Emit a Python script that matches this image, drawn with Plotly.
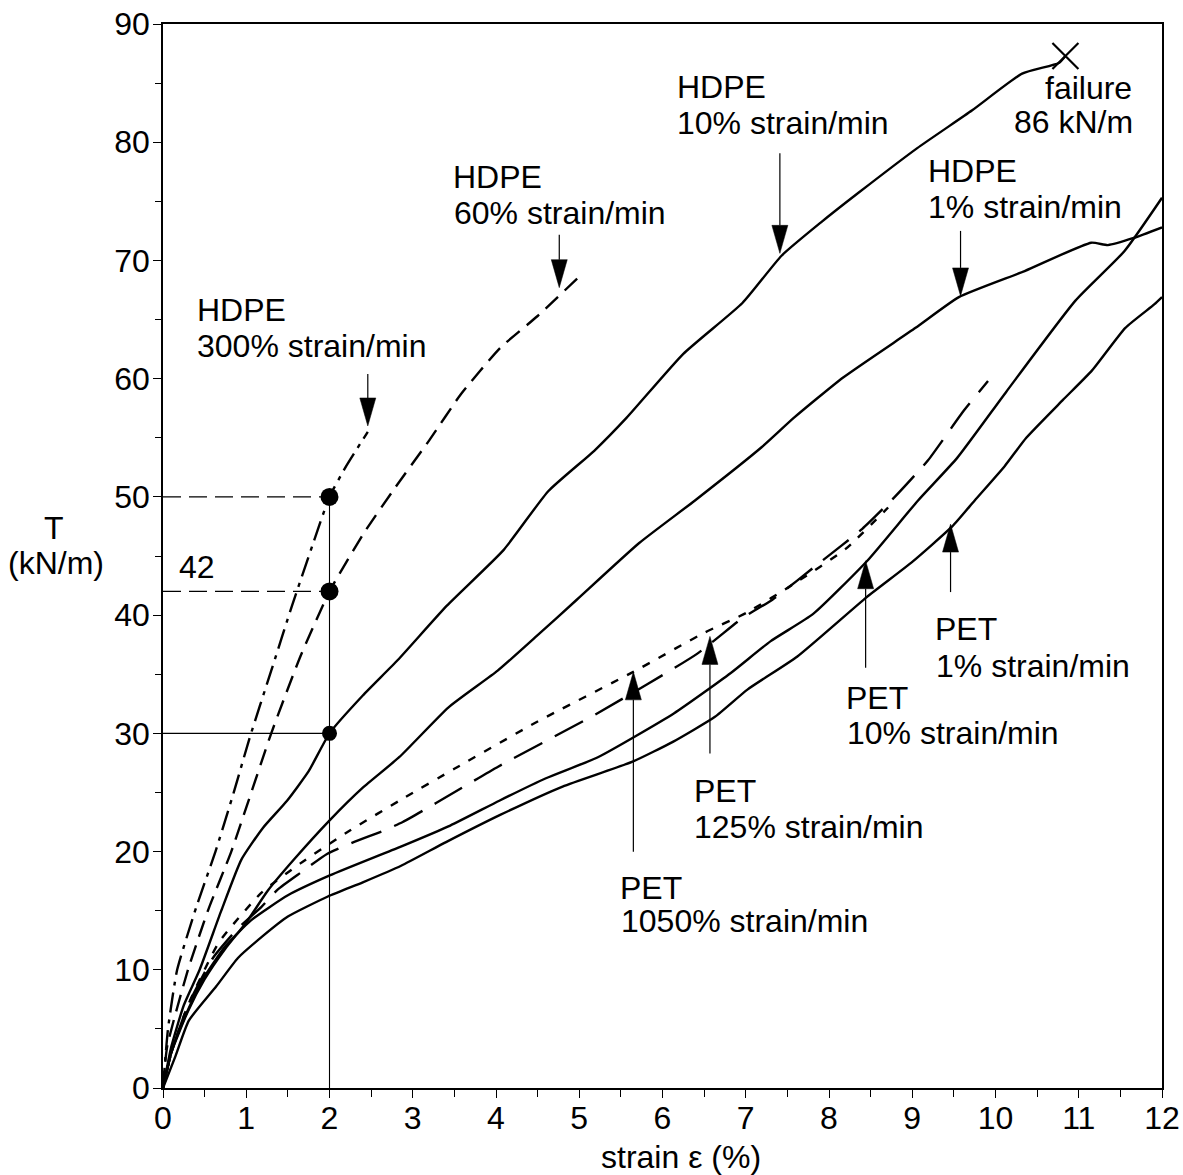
import plotly.graph_objects as go

# ---------------- data (strain %, tensile load kN/m) ----------------
HDPE_300_X = [0, 0.06, 0.17, 0.4, 0.63, 0.85, 1.04, 1.3, 1.55, 1.8, 2.0, 2.2, 2.46]
HDPE_300_Y = [0, 5, 10, 15.3, 20, 25, 29.6, 35.3, 40.8, 46, 50, 52.6, 55.5]

HDPE_60_X = [0, 0.05, 0.3, 0.55, 0.82, 1.3, 1.65, 2.0, 2.4, 2.79, 3.2, 3.58, 4.05, 4.5, 4.98]
HDPE_60_Y = [0, 3.5, 10, 15.2, 20, 30, 36.5, 42, 46.8, 50.8, 54.8, 58.7, 62.6, 65.3, 68.5]

HDPE_10_X = [0, 0.1, 0.25, 0.44, 0.7, 0.94, 1.2, 1.49, 1.75, 2.0, 2.4, 2.82, 3.41, 4.09,
             4.63, 5.18, 5.57, 6.25, 6.96, 7.43, 7.9, 8.35, 9.06, 9.72, 10.32, 10.76, 10.84]
HDPE_10_Y = [0, 3.5, 7, 10, 15, 19.3, 22, 24.3, 26.8, 30, 33.2, 36.2, 40.8, 45.5,
             50.5, 53.9, 56.7, 62.1, 66.4, 70.4, 73.2, 75.7, 79.5, 82.7, 85.8, 86.7, 87.3]

HDPE_1_X = [0, 0.1, 0.3, 0.5, 0.75, 1.0, 1.26, 1.57, 2.01, 2.4, 2.84, 3.43, 4.02, 4.5, 4.97,
            5.72, 6.39, 7.19, 7.58, 8.17, 9.04, 9.56, 10.35, 11.15, 11.35, 11.66, 12.0]
HDPE_1_Y = [0, 3, 6.5, 9.2, 11.8, 14, 16.7, 19.3, 22.7, 25.4, 28, 32.2, 35.3, 38.3, 41.3,
            46.1, 49.7, 54.2, 56.7, 60.1, 64.3, 66.9, 69.1, 71.5, 71.3, 71.9, 72.8]

PET_1050_X = [0, 0.1, 0.3, 0.67, 1.18, 1.65, 2.25, 2.91, 3.5, 4.5, 5.65, 6.5, 7.01, 7.59, 8.2, 8.71]
PET_1050_Y = [0, 3, 7, 12.3, 16.5, 19.0, 21.8, 24.6, 27, 31, 35.2, 38.5, 40.2, 42.7, 45.6, 49.1]

PET_125_X = [0, 0.1, 0.3, 0.6, 0.9, 1.18, 1.38, 1.65, 1.97, 2.29, 2.66, 2.88, 3.28, 4.03,
             5.22, 6.41, 6.97, 7.32, 7.9, 8.4, 8.79, 9.19, 9.62, 9.91]
PET_125_Y = [0, 3, 7, 11, 13.5, 15.3, 16.8, 18.2, 19.8, 20.8, 21.8, 22.5, 24.1, 27.2,
             31.7, 36.7, 39.8, 41.3, 44.5, 47.3, 50, 53.1, 57.3, 59.8]

PET_10_X = [0, 0.1, 0.25, 0.47, 0.75, 1.06, 1.5, 2.01, 2.85, 3.45, 4.04, 4.6, 5.23, 6.14,
            6.82, 7.3, 7.81, 8.46, 9.07, 9.54, 10.13, 10.96, 11.55, 12.0]
PET_10_Y = [0, 3, 5.8, 9.1, 12, 14.2, 16.3, 18, 20.4, 22.2, 24.3, 26.2, 28, 31.7,
            35.1, 37.8, 40.1, 44.6, 49.7, 53.3, 58.9, 66.6, 70.8, 75.3]

PET_1_X = [0, 0.15, 0.31, 0.64, 0.9, 1.19, 1.5, 1.98, 2.4, 2.86, 3.4, 4.05, 4.8, 5.64, 6.13,
           6.63, 7.02, 7.62, 8.45, 9.0, 9.48, 9.75, 10.11, 10.37, 10.81, 11.16, 11.56, 11.91, 12.0]
PET_1_Y = [0, 2.7, 5.7, 8.6, 11, 12.8, 14.5, 16.2, 17.4, 18.8, 20.8, 23.1, 25.5, 27.6, 29.3,
           31.4, 33.7, 36.5, 41.5, 44.5, 47.5, 49.7, 52.6, 55.0, 58.2, 60.7, 64.3, 66.3, 66.9]

# reference strain and loads read at 2 % strain
REF_STRAIN = 2.0
REF_LOADS = [30, 42, 50]

# failure point of HDPE 10 %/min
FAIL_X = [10.84]
FAIL_Y = [87.3]

# arrow tips (strain, load) pointing at each curve
ARROW_X = [2.46, 4.76, 7.41, 9.58, 5.65, 6.57, 8.44, 9.46]
ARROW_Y = [56.0, 67.7, 70.6, 67.0, 35.2, 38.2, 44.6, 47.7]

X_TICKS = list(range(0, 13))
Y_TICKS = list(range(0, 100, 10))

# ---------------- layout geometry / styles ----------------
W, H = 1183, 1175
ML, MT = 163, 24
PLOT_W, PLOT_H = 999, 1064
MR = W - ML - PLOT_W
MB = H - MT - PLOT_H
X_RANGE = [0, 12]
Y_RANGE = [0, 90]
PPX = PLOT_W / (X_RANGE[1] - X_RANGE[0])
PPY = PLOT_H / (Y_RANGE[1] - Y_RANGE[0])

FONT = "Liberation Sans, Arial, Helvetica, sans-serif"
FS = 32
LW = 2.4

ARROW_DIR = [-1, -1, -1, -1, 1, 1, 1, 1]  # -1: arrow points down, 1: points up
ARROW_LEN_PX = [52, 53, 100, 65, 180, 117, 107, 68]
HEAD_L, HEAD_W = 28, 16

fig = go.Figure()


def curve(x, y, dash, width=LW):
    fig.add_trace(go.Scatter(x=x, y=y, mode="lines",
                             line=dict(color="black", width=width, dash=dash,
                                       shape="spline", smoothing=0.5),
                             hoverinfo="skip", showlegend=False))


# reference construction lines at 2 % strain
fig.add_trace(go.Scatter(x=[REF_STRAIN, REF_STRAIN], y=[0, max(REF_LOADS)], mode="lines",
                         line=dict(color="black", width=1.1), showlegend=False))
fig.add_trace(go.Scatter(x=[0, REF_STRAIN], y=[REF_LOADS[0], REF_LOADS[0]], mode="lines",
                         line=dict(color="black", width=1.1), showlegend=False))
for ld in REF_LOADS[1:]:
    fig.add_trace(go.Scatter(x=[0, REF_STRAIN], y=[ld, ld], mode="lines",
                             line=dict(color="black", width=1.3, dash="18px,8px"),
                             showlegend=False))

# curves
curve(HDPE_300_X, HDPE_300_Y, "20px,7px,4px,7px")
curve(HDPE_60_X, HDPE_60_Y, "17px,9px")
curve(HDPE_10_X, HDPE_10_Y, "solid")
curve(HDPE_1_X, HDPE_1_Y, "solid")
curve(PET_1050_X, PET_1050_Y, "8px,10px")
curve(PET_125_X, PET_125_Y, "32px,14px")
curve(PET_10_X, PET_10_Y, "solid")
curve(PET_1_X, PET_1_Y, "solid")

# dots at the reference points
fig.add_trace(go.Scatter(x=[REF_STRAIN] * len(REF_LOADS), y=REF_LOADS, mode="markers",
                         marker=dict(color="black", size=[15, 18, 18], opacity=1,
                                     line=dict(width=0)), showlegend=False))

# failure cross
fig.add_trace(go.Scatter(x=FAIL_X, y=FAIL_Y, mode="markers",
                         marker=dict(symbol="x-thin", size=26, color="black",
                                     line=dict(width=2.2, color="black")),
                         showlegend=False))

# arrows (shaft + filled head)
for tx, ty, d, L in zip(ARROW_X, ARROW_Y, ARROW_DIR, ARROW_LEN_PX):
    sign = -d  # tail direction in y
    tail_y = ty + sign * L / PPY
    base_y = ty + sign * HEAD_L / PPY
    fig.add_trace(go.Scatter(x=[tx, tx], y=[base_y, tail_y], mode="lines",
                             line=dict(color="black", width=1.2), showlegend=False))
    hw = HEAD_W / 2 / PPX
    fig.add_trace(go.Scatter(x=[tx - hw, tx + hw, tx, tx - hw], y=[base_y, base_y, ty, base_y],
                             mode="lines", fill="toself", fillcolor="black",
                             line=dict(color="black", width=0.5), showlegend=False))

# labels
LABELS = [
    ("HDPE", 0.38, 65.85, "left"), ("300% strain/min", 0.39, 62.8, "left"),
    ("HDPE", 3.46, 77.1, "left"), ("60% strain/min", 3.47, 74.05, "left"),
    ("HDPE", 6.15, 84.7, "left"), ("10% strain/min", 6.15, 81.6, "left"),
    ("failure", 11.66, 84.6, "right"), ("86 kN/m", 11.68, 81.7, "right"),
    ("HDPE", 9.16, 77.6, "left"), ("1% strain/min", 9.17, 74.5, "left"),
    ("PET", 5.47, 16.9, "left"), ("1050% strain/min", 5.48, 14.1, "left"),
    ("PET", 6.36, 25.1, "left"), ("125% strain/min", 6.36, 22.1, "left"),
    ("PET", 8.18, 33.0, "left"), ("10% strain/min", 8.19, 30.0, "left"),
    ("PET", 9.25, 38.8, "left"), ("1% strain/min", 9.26, 35.7, "left"),
    ("42", 0.17, 44.1, "left"),
]
for txt, x, y, xa in LABELS:
    fig.add_annotation(x=x, y=y, xref="x", yref="y", text=txt, showarrow=False,
                       xanchor=xa, yanchor="middle", font=dict(size=FS, color="black", family=FONT))


# axis titles (positions in screen px of the target, converted to paper units)
def paper_x(px):
    return (px - ML) / PLOT_W


def paper_y(py):
    return (MT + PLOT_H - py) / PLOT_H


fig.add_annotation(x=paper_x(54), y=paper_y(528), xref="paper", yref="paper", text="T",
                   showarrow=False, xanchor="center", yanchor="middle",
                   font=dict(size=FS, color="black", family=FONT))
fig.add_annotation(x=paper_x(56), y=paper_y(563), xref="paper", yref="paper", text="(kN/m)",
                   showarrow=False, xanchor="center", yanchor="middle",
                   font=dict(size=FS, color="black", family=FONT))
fig.add_annotation(x=paper_x(681), y=paper_y(1157), xref="paper", yref="paper",
                   text="strain ε (%)", showarrow=False, xanchor="center", yanchor="middle",
                   font=dict(size=FS, color="black", family=FONT))

axis_common = dict(showgrid=False, zeroline=False, showline=True, linecolor="black",
                   linewidth=1.5, mirror=True, ticks="outside", tickcolor="black",
                   tickwidth=1.3, ticklen=8, ticklabeloverflow="allow",
                   tickfont=dict(size=FS, color="black", family=FONT))
fig.update_xaxes(range=X_RANGE, tickvals=X_TICKS, ticktext=[str(v) for v in X_TICKS],
                 ticklabelstandoff=-7,
                 minor=dict(dtick=0.5, ticks="outside", ticklen=7, tickwidth=1.2, tickcolor="black"),
                 **axis_common)
fig.update_yaxes(range=Y_RANGE, tickvals=Y_TICKS, ticktext=[str(v) for v in Y_TICKS],
                 ticklabelstandoff=-3,
                 minor=dict(dtick=5, ticks="outside", ticklen=6, tickwidth=1.2, tickcolor="black"),
                 **axis_common)

fig.update_layout(width=W, height=H, margin=dict(l=ML, r=MR, t=MT, b=MB, autoexpand=False),
                  plot_bgcolor="white", paper_bgcolor="white", showlegend=False,
                  font=dict(family=FONT, size=FS, color="black"))

fig.write_html("out.html", config={"displayModeBar": False},
               post_script="document.body.style.margin='0';document.body.style.overflow='hidden';")
